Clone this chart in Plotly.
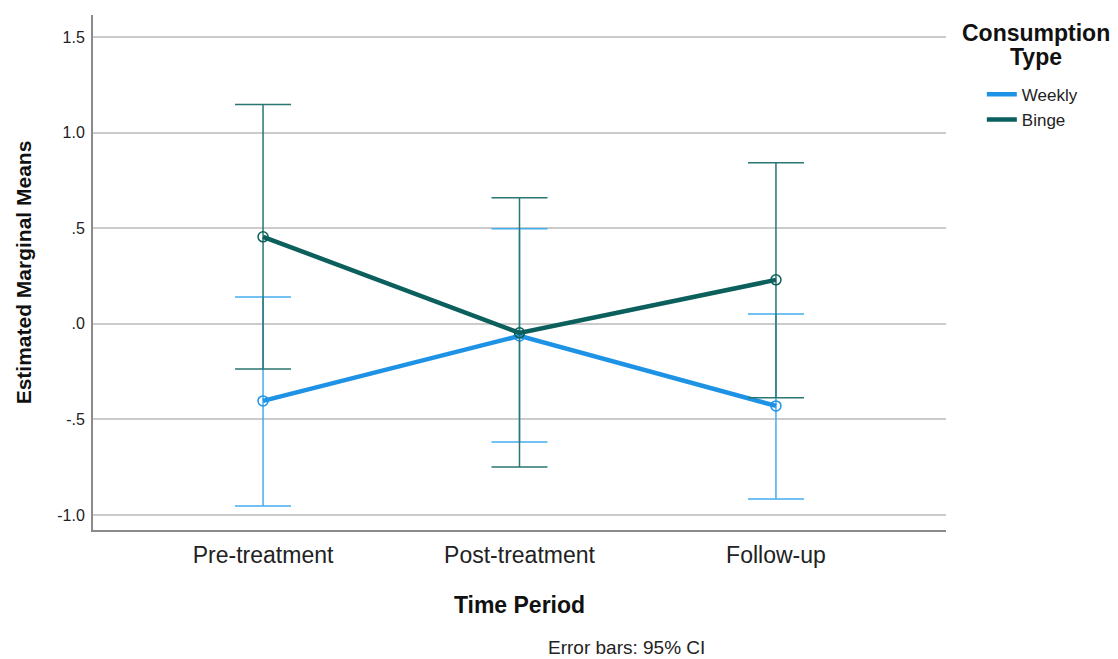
import plotly.graph_objects as go

periods = ["Pre-treatment", "Post-treatment", "Follow-up"]
weekly_mean = [-0.403, -0.063, -0.429]
weekly_upper = [0.141, 0.497, 0.052]
weekly_lower = [-0.953, -0.618, -0.916]
binge_mean = [0.455, -0.047, 0.230]
binge_upper = [1.147, 0.660, 0.843]
binge_lower = [-0.236, -0.749, -0.387]
y_tickvals = [-1.0, -0.5, 0.0, 0.5, 1.0, 1.5]
y_ticktext = ["-1.0", "-.5", ".0", ".5", "1.0", "1.5"]

x_idx = list(range(len(periods)))

def errs(mean, up, lo):
    return [u - m for u, m in zip(up, mean)], [m - l for m, l in zip(mean, lo)]

fig = go.Figure()
series = [
    ("Weekly", weekly_mean, weekly_upper, weekly_lower, "#1e93e6", "#45acee"),
    ("Binge", binge_mean, binge_upper, binge_lower, "#0b5f5c", "#2a7672"),
]
for name, m, up, lo, col, ecol in series:
    plus, minus = errs(m, up, lo)
    fig.add_trace(go.Scatter(
        x=x_idx, y=m, name=name, mode="lines+markers", showlegend=False,
        line=dict(color=col, width=4.5),
        marker=dict(symbol="circle-open", size=10, color=col, line=dict(width=1.5, color=col)),
        error_y=dict(type="data", symmetric=False, array=plus, arrayminus=minus,
                     color=ecol, thickness=1.5, width=28),
    ))
for name, m, up, lo, col, ecol in series:
    fig.add_trace(go.Scatter(
        x=[None], y=[None], name=name, mode="lines",
        line=dict(color=col, width=4.5), showlegend=True,
    ))

fig.update_layout(
    width=1110, height=651,
    margin=dict(l=85, r=172, t=7, b=129),
    paper_bgcolor="white", plot_bgcolor="white",
    font=dict(family="Liberation Sans, Arial, sans-serif", color="#222"),
    showlegend=True,
    legend=dict(x=1.042, xanchor="left", y=0.88, yanchor="top",
                font=dict(size=17, color="#222"), tracegroupgap=0,
                itemwidth=30, bgcolor="rgba(0,0,0,0)"),
    xaxis=dict(range=[-0.663, 2.663], tickmode="array", tickvals=x_idx, ticktext=periods,
               tickfont=dict(size=23, color="#222"), showgrid=False, zeroline=False,
               showline=True, linecolor="#8a8a8a", linewidth=2, ticks="", ticklabelstandoff=3,
               title=dict(text="<b>Time Period</b>", font=dict(size=23, color="#111"), standoff=30)),
    yaxis=dict(range=[-1.078, 1.615], tickmode="array", tickvals=y_tickvals, ticktext=y_ticktext,
               tickfont=dict(size=16, color="#222"), showgrid=True, gridcolor="#cbcbcb", gridwidth=2,
               zeroline=False, showline=True, linecolor="#8a8a8a", linewidth=2, ticks="",
               ticklabelstandoff=3,
               title=dict(text="<b>Estimated Marginal Means</b>", font=dict(size=21, color="#111"), standoff=20)),
    annotations=[
        dict(text="<b>Consumption</b>", xref="paper", yref="paper", x=1.106, y=0.965,
             xanchor="center", yanchor="middle", showarrow=False,
             font=dict(size=23, color="#111")),
        dict(text="<b>Type</b>", xref="paper", yref="paper", x=1.106, y=0.918,
             xanchor="center", yanchor="middle", showarrow=False,
             font=dict(size=23, color="#111")),
        dict(text="Error bars: 95% CI", xref="paper", yref="paper", x=0.626, y=-0.229,
             xanchor="center", yanchor="middle", showarrow=False,
             font=dict(size=19, color="#222")),
    ],
)

fig.write_html("out.html")
